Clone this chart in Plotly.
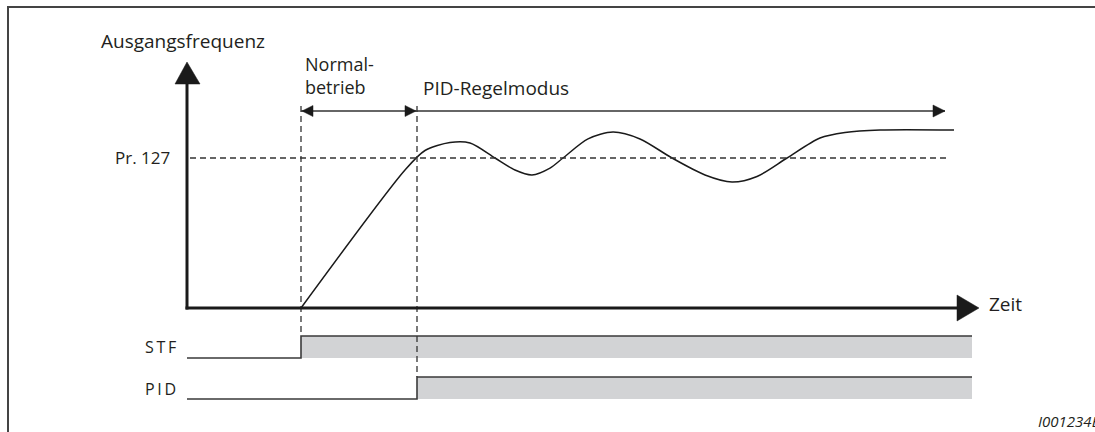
import plotly.graph_objects as go

# ---------------- data ----------------
# time in arbitrary units, output frequency in % of the Pr. 127 level
time_key = [11.4, 21.8, 23.8, 26.3, 28.3, 30.8, 32.8, 34.5, 36.3, 37.6, 40.1, 42.6, 45.3, 48.5,
            51.8, 54.5, 57.0, 60.0, 63.3, 65.8, 69.3, 76.7]
freq_key = [0, 92.0, 105.0, 110.3, 110.0, 100, 92.0, 88.7, 93.3, 100, 112.7, 117.3, 112.7, 100,
            88.7, 84.0, 87.7, 100, 113.3, 117.0, 118.7, 118.7]

pr127_level = 100
pr127_end = 76.3

t_stf_on = 11.4
t_pid_on = 23.0
t_signal_end = 78.5
t_mode_arrow_end = 75.8

stf_time = [0, t_stf_on, t_signal_end]
stf_level = [0, 1, 1]
pid_time = [0, t_pid_on, t_signal_end]
pid_level = [0, 1, 1]

# ---------------- geometry helpers (layout only) ----------------
W, H = 1095, 432
X0_PX, Y0_PX = 187, 308      # origin of the frequency/time axes in pixels
SX, SY = 10.0, 1.5           # px per unit


def X(px):
    return (px - X0_PX) / SX


def Y(py):
    return (Y0_PX - py) / SY


def PX(t):
    return X0_PX + t * SX


def pxp(px):
    return px / W


def pyp(py):
    return 1 - py / H


INK = "#1a1a1a"
GRAY = "#d2d3d5"
FONT = "Open Sans"

fig = go.Figure()

# gray "on" areas of the signals
fig.add_trace(go.Scatter(x=stf_time, y=stf_level, yaxis="y2", mode="lines", line_shape="hv",
                         line=dict(color="#3a3a3a", width=1.6), fill="tozeroy", fillcolor=GRAY,
                         hoverinfo="skip"))
fig.add_trace(go.Scatter(x=pid_time, y=pid_level, yaxis="y3", mode="lines", line_shape="hv",
                         line=dict(color="#3a3a3a", width=1.6), fill="tozeroy", fillcolor=GRAY,
                         hoverinfo="skip"))

# output frequency curve
fig.add_trace(go.Scatter(x=time_key, y=freq_key, mode="lines", line_shape="spline",
                         line=dict(color=INK, width=1.5, smoothing=0.8), hoverinfo="skip"))

shapes = []
dash = "6px,4px"

# frame (top and left edges; the others lie outside the picture)
shapes.append(dict(type="line", xref="paper", yref="paper", x0=pxp(7), x1=1.0,
                   y0=pyp(7), y1=pyp(7), line=dict(color="#444", width=2)))
shapes.append(dict(type="line", xref="paper", yref="paper", x0=pxp(8), x1=pxp(8),
                   y0=pyp(6), y1=0, line=dict(color="#444", width=2)))

# Pr.127 dashed
shapes.append(dict(type="line", xref="x", yref="y", x0=X(190), x1=pr127_end, y0=pr127_level,
                   y1=pr127_level, line=dict(color="#333", width=1.3, dash=dash)))

# event dashed verticals
shapes.append(dict(type="line", xref="x", yref="paper", x0=t_stf_on, x1=t_stf_on,
                   y0=pyp(106), y1=pyp(336), line=dict(color="#333", width=1.3, dash=dash)))
shapes.append(dict(type="line", xref="x", yref="paper", x0=t_pid_on, x1=t_pid_on,
                   y0=pyp(106), y1=pyp(377), line=dict(color="#333", width=1.3, dash=dash)))

# axes
shapes.append(dict(type="line", xref="x", yref="y", x0=0, x1=0, y0=Y(309.5), y1=Y(80),
                   line=dict(color=INK, width=3)))
shapes.append(dict(type="line", xref="x", yref="y", x0=X(185.5), x1=X(960), y0=0, y1=0,
                   line=dict(color=INK, width=3)))


def tri(tip, b1, b2):
    return dict(type="path", xref="x", yref="y",
                path=f"M {X(tip[0])},{Y(tip[1])} L {X(b1[0])},{Y(b1[1])} L {X(b2[0])},{Y(b2[1])} Z",
                fillcolor=INK, line=dict(color=INK, width=0.5))


shapes.append(tri((187, 62), (175, 84), (200, 84)))
shapes.append(tri((979, 308), (957, 295), (957, 321)))

# mode arrows
ya = 111
shapes.append(dict(type="line", xref="x", yref="y", x0=t_stf_on, x1=t_pid_on, y0=Y(ya), y1=Y(ya),
                   line=dict(color="#333", width=1.5)))
shapes.append(dict(type="line", xref="x", yref="y", x0=t_pid_on, x1=t_mode_arrow_end, y0=Y(ya), y1=Y(ya),
                   line=dict(color="#333", width=1.5)))
a = PX(t_stf_on)
shapes.append(tri((a + 1, ya), (a + 12, ya - 5.5), (a + 12, ya + 5.5)))
b = PX(t_pid_on)
shapes.append(tri((b - 1, ya), (b - 12, ya - 5.5), (b - 12, ya + 5.5)))
c = PX(t_mode_arrow_end)
shapes.append(tri((c, ya), (c - 12, ya - 6), (c - 12, ya + 6)))

annotations = []


def txt(s, px, py, size=18, xanchor="left", style="normal", color="#231f20", align="left"):
    annotations.append(dict(text=s, x=pxp(px), y=pyp(py), xref="paper", yref="paper",
                            xanchor=xanchor, yanchor="middle", showarrow=False, align=align,
                            font=dict(family=FONT, size=size, color=color, style=style)))


txt("Ausgangsfrequenz", 99, 41, 19)
txt("Normal-<br>betrieb", 303, 75, 18)
txt("PID-Regelmodus", 421, 88, 19)
txt("Pr. 127", 172, 157, 17, xanchor="right")
txt("Zeit", 987, 304, 19)
txt("S\u2009T\u2009F", 178, 347, 16, xanchor="right")
txt("P\u2009I\u2009D", 178, 389, 16, xanchor="right")
txt("I001234E", 1036, 421, 15, style="italic")

fig.update_layout(
    width=W, height=H,
    margin=dict(l=0, r=0, t=0, b=0, pad=0),
    paper_bgcolor="white", plot_bgcolor="rgba(0,0,0,0)",
    showlegend=False,
    xaxis=dict(range=[X(0), X(W)], visible=False, fixedrange=True),
    yaxis=dict(range=[Y(H), Y(0)], visible=False, domain=[0, 1], fixedrange=True),
    yaxis2=dict(range=[-0.4, 1.4], domain=[pyp(366.8), pyp(327.2)], visible=False, anchor="x",
                fixedrange=True),
    yaxis3=dict(range=[-0.4, 1.4], domain=[pyp(407.8), pyp(368.2)], visible=False, anchor="x",
                fixedrange=True),
    shapes=shapes,
    annotations=annotations,
)

fig.write_html("out.html", config=dict(displayModeBar=False),
               post_script="document.body.style.margin='0';document.body.style.overflow='hidden';")
